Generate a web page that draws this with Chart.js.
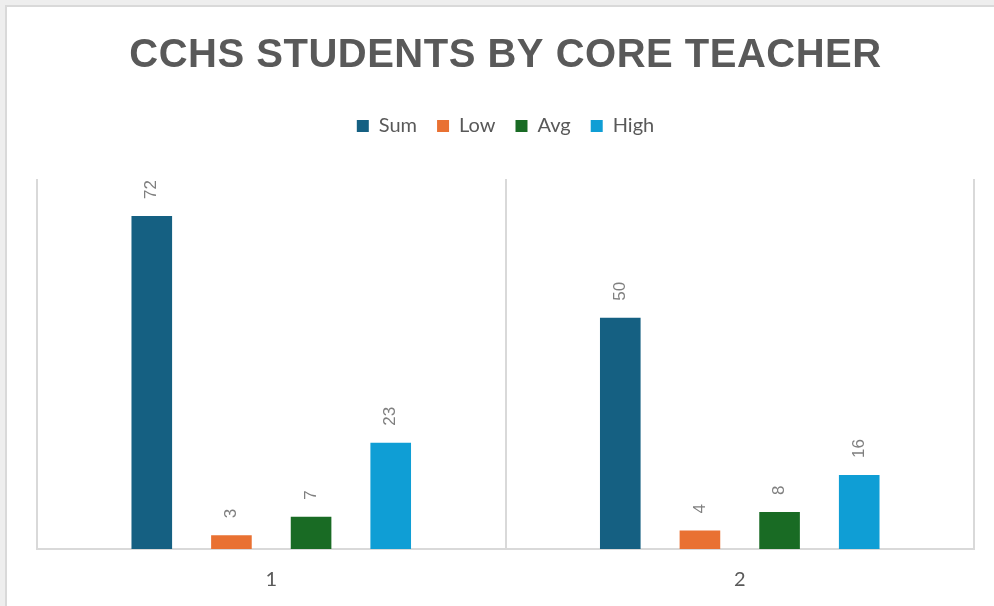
<!DOCTYPE html>
<html>
<head>
<meta charset="utf-8">
<script src="https://cdn.jsdelivr.net/npm/chart.js@4.4.1/dist/chart.umd.min.js"></script>
<style>
  html, body { margin: 0; padding: 0; background: #eeeeee; overflow: hidden; }
  #card { position: absolute; left: 5px; top: 5px; width: 1010px; height: 620px; border: 2px solid #d9d9d9; background: #ffffff; }
  #wrap { position: absolute; left: 0; top: 0; width: 994px; height: 606px; }
</style>
</head>
<body>
<div id="card"></div>
<div id="wrap"><canvas id="teacherChart"></canvas></div>
<script>
// chart data
const chartTitle = 'CCHS STUDENTS BY CORE TEACHER';
const teachers = ['1', '2'];
const seriesNames = ['Sum', 'Low', 'Avg', 'High'];
const sumValues = [72, 50];
const lowValues = [3, 4];
const avgValues = [7, 8];
const highValues = [23, 16];
const yMax = 80;

const seriesColors = ['#156082', '#E97132', '#196B24', '#0F9ED5'];
const textGray = '#595959';

// title with letter spacing, drawn by hand
const spacedTitle = {
    id: 'spacedTitle',
    afterDraw(chart) {
        const ctx = chart.ctx;
        ctx.save();
        ctx.font = 'bold 40px "Liberation Sans", Arial, sans-serif';
        ctx.letterSpacing = '0.5px';
        ctx.fillStyle = textGray;
        ctx.textAlign = 'center';
        ctx.textBaseline = 'alphabetic';
        ctx.fillText(chartTitle, (chart.chartArea.left + chart.chartArea.right) / 2, 67);
        ctx.restore();
    }
};

// rotated value labels above each bar
const barLabels = {
    id: 'barLabels',
    afterDatasetsDraw(chart) {
        const ctx = chart.ctx;
        ctx.save();
        ctx.font = '17px "Liberation Sans", Arial, sans-serif';
        ctx.fillStyle = '#7f7f7f';
        ctx.textAlign = 'left';
        ctx.textBaseline = 'middle';
        chart.data.datasets.forEach((ds, i) => {
            chart.getDatasetMeta(i).data.forEach((bar, j) => {
                ctx.save();
                ctx.translate(bar.x, bar.y - 17);
                ctx.rotate(-Math.PI / 2);
                ctx.fillText(String(ds.data[j]), 0, 0);
                ctx.restore();
            });
        });
        ctx.restore();
    }
};

// extra room under the legend
const legendSpacer = {
    id: 'legendSpacer',
    beforeInit(chart) {
        const fit = chart.legend.fit;
        chart.legend.fit = function () {
            fit.call(this);
            this.height += 33;
        };
    }
};

const seriesValues = [sumValues, lowValues, avgValues, highValues];

new Chart(document.getElementById('teacherChart'), {
    type: 'bar',
    data: {
        labels: teachers,
        datasets: seriesNames.map((name, i) => ({
            label: name,
            data: seriesValues[i],
            backgroundColor: seriesColors[i],
            borderWidth: 0,
            categoryPercentage: 0.68,
            barPercentage: 0.51
        }))
    },
    options: {
        responsive: true,
        maintainAspectRatio: false,
        animation: false,
        layout: { padding: { top: 96, left: 37, right: 20, bottom: 0 } },
        plugins: {
            title: { display: false },
            tooltip: { enabled: false },
            legend: {
                position: 'top',
                labels: {
                    boxWidth: 12,
                    boxHeight: 12,
                    padding: 20,
                    color: textGray,
                    font: { size: 20, family: 'Lato, "Liberation Sans", sans-serif' }
                }
            }
        },
        scales: {
            x: {
                grid: { display: true, offset: true, color: '#d9d9d9', lineWidth: 2, drawTicks: false },
                border: { display: true, color: '#d9d9d9', width: 2 },
                ticks: {
                    padding: 19,
                    color: textGray,
                    font: { size: 20, family: 'Lato, "Liberation Sans", sans-serif' }
                },
                afterFit(scale) { scale.height = 57; }
            },
            y: {
                display: false,
                min: 0,
                max: yMax
            }
        }
    },
    plugins: [legendSpacer, barLabels, spacedTitle]
});
</script>
</body>
</html>
